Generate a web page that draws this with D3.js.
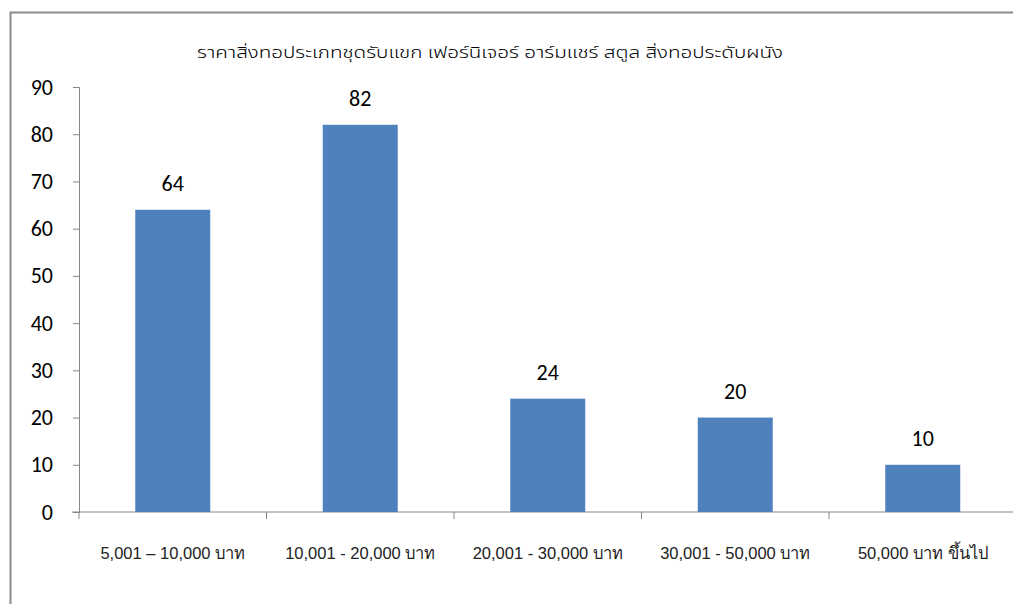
<!DOCTYPE html>
<html><head><meta charset="utf-8">
<script src="https://cdn.jsdelivr.net/npm/d3@7"></script>
<style>body{margin:0;background:#fff}svg{display:block}</style>
</head><body>
<script>
const categories = ["5,001 – 10,000 บาท","10,001 - 20,000 บาท","20,001 - 30,000 บาท","30,001 - 50,000 บาท","50,000 บาท ขึ้นไป"];
const values = [64, 82, 24, 20, 10];
const yTicks = [0,10,20,30,40,50,60,70,80,90];
const title = "ราคาสิ่งทอประเภทชุดรับแขก เฟอร์นิเจอร์ อาร์มแชร์ สตูล สิ่งทอประดับผนัง";

const W = 1013, H = 604;
const svg = d3.select("body").append("svg").attr("width", W).attr("height", H);
svg.append("path").attr("d", `M10.5,${H+5} V12.5 H${W+5}`).attr("fill","none").attr("stroke","#8c8c8c").attr("stroke-width",2);

const x = d3.scaleBand().domain(categories).range([79, 1016.5]).paddingInner(0.6).paddingOuter(0.3);
const y = d3.scaleLinear().domain([0, 90]).range([512, 87]);

svg.append("text").attr("x", 490).attr("y", 58).attr("text-anchor","middle")
  .attr("font-family","'Noto Sans Thai','Noto Sans','DejaVu Sans',sans-serif").attr("font-size",16).attr("font-weight",300)
  .attr("textLength", 586).attr("lengthAdjust","spacingAndGlyphs")
  .text(title);

const numFont = "Carlito,'Open Sans',Lato,sans-serif";
const ya = svg.append("g").attr("transform","translate(79,0)")
  .call(d3.axisLeft(y).tickValues(yTicks).tickSize(6).tickPadding(20));
ya.select(".domain").attr("stroke","#868686");
ya.selectAll(".tick line").attr("stroke","#868686");
ya.selectAll(".tick text").attr("font-family",numFont).attr("font-size",22).attr("fill","#000");

const xAxisG = svg.append("g").attr("transform","translate(0,512)");
xAxisG.append("line").attr("x1",72).attr("x2",W).attr("stroke","#868686").attr("stroke-width",1);
const step = x.step();
const bounds = d3.range(categories.length+1).map(i => 79 + i*step);
xAxisG.selectAll(".xt").data(bounds).join("line").attr("class","xt")
  .attr("x1",d=>d).attr("x2",d=>d).attr("y1",0).attr("y2",7).attr("stroke","#868686");
xAxisG.selectAll(".xl").data(categories).join("text").attr("class","xl")
  .attr("x", d => x(d) + x.bandwidth()/2).attr("y", 47).attr("text-anchor","middle")
  .attr("font-family","'Liberation Sans',Arial,sans-serif").attr("font-size",16.5).attr("fill","#222")
  .text(d=>d);

svg.selectAll(".bar").data(values).join("rect").attr("class","bar")
  .attr("x",(d,i)=>x(categories[i])).attr("width",x.bandwidth())
  .attr("y",d=>y(d)).attr("height",d=>y(0)-y(d)).attr("fill","#4f81bd");

svg.selectAll(".val").data(values).join("text").attr("class","val")
  .attr("x",(d,i)=>x(categories[i])+x.bandwidth()/2).attr("y",d=>y(d)-19)
  .attr("text-anchor","middle").attr("font-family",numFont).attr("font-size",22).attr("fill","#000")
  .text(d=>d);
</script>
</body></html>
